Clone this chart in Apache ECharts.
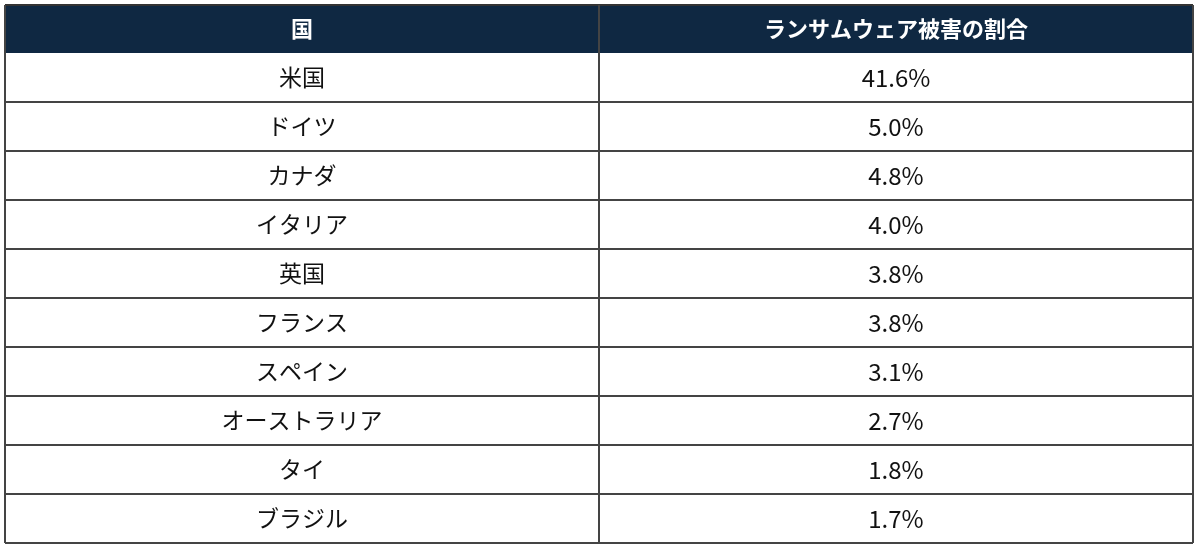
<!DOCTYPE html>
<html><head><meta charset="utf-8">
<script src="https://cdn.jsdelivr.net/npm/echarts@6/dist/echarts.min.js"></script>
<style>html,body{margin:0;background:#fff}#main{width:1198px;height:552px}</style>
</head><body><div id="main"></div>
<script>
var headers = ['国', 'ランサムウェア被害の割合'];
var countries = ['米国', 'ドイツ', 'カナダ', 'イタリア', '英国', 'フランス', 'スペイン', 'オーストラリア', 'タイ', 'ブラジル'];
var shares = ['41.6%', '5.0%', '4.8%', '4.0%', '3.8%', '3.8%', '3.1%', '2.7%', '1.8%', '1.7%'];

var chart = echarts.init(document.getElementById('main'));
var L = 5, R = 1193, M = 599, T = 5, HH = 48, RH = 49;
var font = '"Noto Sans CJK JP", sans-serif';
var els = [];
els.push({type: 'rect', shape: {x: L, y: T, width: R - L, height: HH}, style: {fill: '#0f2842'}});
[[L, M], [M, R]].forEach(function (c, i) {
  els.push({type: 'text', x: (c[0] + c[1]) / 2, y: T + HH / 2,
    style: {text: headers[i], fill: '#fff', font: 'bold 22px ' + font, align: 'center', verticalAlign: 'middle'}});
});
countries.forEach(function (name, i) {
  var y = T + HH + i * RH;
  els.push({type: 'text', x: (L + M) / 2, y: y + RH / 2,
    style: {text: name, fill: '#111', font: '23px ' + font, align: 'center', verticalAlign: 'middle'}});
  els.push({type: 'text', x: (M + R) / 2, y: y + RH / 2,
    style: {text: shares[i], fill: '#111', font: '24px ' + font, align: 'center', verticalAlign: 'middle'}});
  els.push({type: 'line', shape: {x1: L, y1: y + RH, x2: R, y2: y + RH}, style: {stroke: '#444', lineWidth: 2}});
});
var B = T + HH + countries.length * RH;
els.push({type: 'line', shape: {x1: L, y1: T, x2: R, y2: T}, style: {stroke: '#333', lineWidth: 2}});
els.push({type: 'line', shape: {x1: L, y1: T, x2: L, y2: B}, style: {stroke: '#444', lineWidth: 2}});
els.push({type: 'line', shape: {x1: R, y1: T, x2: R, y2: B}, style: {stroke: '#444', lineWidth: 2}});
els.push({type: 'line', shape: {x1: M, y1: T, x2: M, y2: B}, style: {stroke: '#444', lineWidth: 2}});
chart.setOption({graphic: {elements: els}});
</script></body></html>
